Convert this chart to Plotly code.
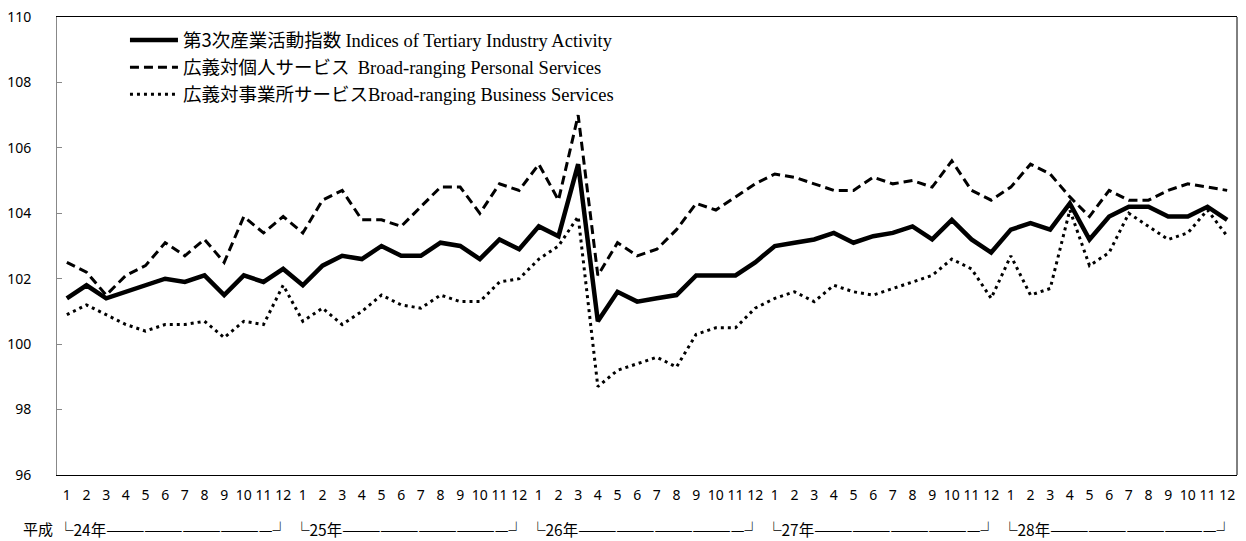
import plotly.graph_objects as go

months = [str(m) for m in range(1, 13)] * 5
years = ["24年", "25年", "26年", "27年", "28年"]

tertiary = [101.4, 101.8, 101.4, 101.6, 101.8, 102.0, 101.9, 102.1, 101.5, 102.1, 101.9, 102.3,
            101.8, 102.4, 102.7, 102.6, 103.0, 102.7, 102.7, 103.1, 103.0, 102.6, 103.2, 102.9,
            103.6, 103.3, 105.5, 100.7, 101.6, 101.3, 101.4, 101.5, 102.1, 102.1, 102.1, 102.5,
            103.0, 103.1, 103.2, 103.4, 103.1, 103.3, 103.4, 103.6, 103.2, 103.8, 103.2, 102.8,
            103.5, 103.7, 103.5, 104.3, 103.2, 103.9, 104.2, 104.2, 103.9, 103.9, 104.2, 103.8]

personal = [102.5, 102.2, 101.5, 102.1, 102.4, 103.1, 102.7, 103.2, 102.5, 103.9, 103.4, 103.9,
            103.4, 104.4, 104.7, 103.8, 103.8, 103.6, 104.2, 104.8, 104.8, 104.0, 104.9, 104.7,
            105.5, 104.4, 107.0, 102.1, 103.1, 102.7, 102.9, 103.5, 104.3, 104.1, 104.5, 104.9,
            105.2, 105.1, 104.9, 104.7, 104.7, 105.1, 104.9, 105.0, 104.8, 105.6, 104.7, 104.4,
            104.8, 105.5, 105.2, 104.5, 103.9, 104.7, 104.4, 104.4, 104.7, 104.9, 104.8, 104.7]

business = [100.9, 101.2, 100.9, 100.6, 100.4, 100.6, 100.6, 100.7, 100.2, 100.7, 100.6, 101.8,
            100.7, 101.1, 100.6, 101.0, 101.5, 101.2, 101.1, 101.5, 101.3, 101.3, 101.9, 102.0,
            102.6, 103.0, 103.9, 98.7, 99.2, 99.4, 99.6, 99.3, 100.3, 100.5, 100.5, 101.1,
            101.4, 101.6, 101.3, 101.8, 101.6, 101.5, 101.7, 101.9, 102.1, 102.6, 102.3, 101.4,
            102.7, 101.5, 101.7, 104.1, 102.4, 102.8, 104.0, 103.6, 103.2, 103.4, 104.1, 103.3]

serif = "font-family:'Liberation Serif'"
names = [
    '第3次産業活動指数 <span style="' + serif + '">Indices of Tertiary Industry Activity</span>',
    '広義対個人サービス  <span style="' + serif + '">Broad-ranging Personal Services</span>',
    '広義対事業所サービス<span style="' + serif + '">Broad-ranging Business Services</span>',
]

x = list(range(len(months)))
x_range = [-0.5, len(months) - 0.5]

fig = go.Figure()
fig.add_trace(go.Scatter(x=x, y=tertiary, mode="lines", name=names[0],
                         line=dict(color="black", width=4.5)))
fig.add_trace(go.Scatter(x=x, y=personal, mode="lines", name=names[1],
                         line=dict(color="black", width=3, dash="9px,5px")))
fig.add_trace(go.Scatter(x=x, y=business, mode="lines", name=names[2],
                         line=dict(color="black", width=3, dash="3px,4px")))

row_y = -0.117
annotations = [dict(text="平成", xref="paper", yref="paper", x=-0.0165, y=row_y,
                    xanchor="center", yanchor="middle", showarrow=False,
                    font=dict(family="Noto Sans CJK JP", size=15, color="black"))]
span = x_range[1] - x_range[0]
for k, yr in enumerate(years):
    xp = (12 * k - 0.57 - x_range[0]) / span
    annotations.append(dict(text="└" + yr + "—" * 13 + "┘", xref="paper", yref="paper",
                            x=xp, y=row_y, xanchor="left", yanchor="middle",
                            showarrow=False,
                            font=dict(family="Noto Sans CJK JP", size=15.5, color="black")))

fig.update_layout(
    width=1238, height=533,
    margin=dict(l=49, r=9, t=9, b=66),
    paper_bgcolor="white", plot_bgcolor="white",
    showlegend=True,
    legend=dict(x=0.0576, y=0.99, xanchor="left", yanchor="top",
                bgcolor="rgba(0,0,0,0)", font=dict(family="Noto Sans CJK JP", size=18.5, color="black"),
                tracegroupgap=0, itemwidth=48),
    annotations=annotations,
    shapes=[dict(type="line", xref="paper", yref="paper", x0=1, x1=1, y0=0, y1=1,
                 line=dict(color="black", width=1))],
    font=dict(family="Noto Sans", color="black"),
)
fig.update_xaxes(range=x_range, tickmode="array", tickvals=x, ticktext=months,
                 showgrid=False, zeroline=False, showline=True, linecolor="black", linewidth=1,
                 mirror=True, ticks="", ticklabelstandoff=7, automargin=False,
                 ticklabeloverflow="allow",
                 tickfont=dict(family="Noto Sans", size=14, color="black"))
fig.update_yaxes(range=[96, 110], dtick=2, tick0=96, showgrid=False, zeroline=False,
                 showline=True, linecolor="#888888", linewidth=1, mirror=False,
                 ticks="inside", ticklen=5, tickcolor="#888888",
                 ticklabelstandoff=22, automargin=False, ticklabeloverflow="allow",
                 tickfont=dict(family="Noto Sans", size=14, color="black"))

fig.write_html("out.html")
